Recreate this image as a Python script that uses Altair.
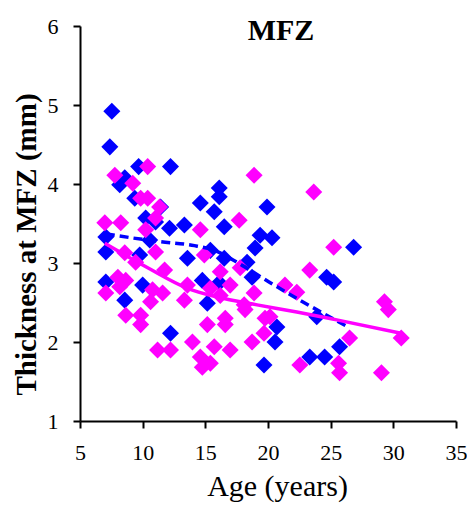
import altair as alt
import pandas as pd

# ---- data ----
blue_age = [7.54, 7.38, 9.68, 12.22, 8.57, 8.17, 9.37, 11.43, 14.60, 15.71, 16.11, 16.11,
            10.24, 11.03, 12.14, 13.33, 16.51, 19.92, 19.37, 7.06, 7.06, 7.06, 10.00, 8.57,
            9.76, 10.56, 13.57, 14.76, 16.51, 18.33, 18.73, 15.16, 12.22, 20.71, 20.56, 19.68,
            23.33, 24.52, 23.89, 24.68, 25.24, 26.83, 25.71, 16.11, 15.40, 20.32, 18.97]
blue_thk = [4.92, 4.47, 4.22, 4.22, 4.08, 3.99, 3.82, 3.71, 3.76, 3.65, 3.95, 3.84,
            3.57, 3.52, 3.44, 3.48, 3.46, 3.71, 3.35, 3.33, 3.14, 2.76, 2.72, 2.53,
            3.10, 3.29, 3.06, 2.78, 3.06, 3.01, 2.82, 2.49, 2.11, 2.19, 2.00, 1.71,
            1.81, 1.81, 2.32, 2.82, 2.76, 3.20, 1.94, 2.75, 3.16, 3.32, 3.19]

pink_age = [10.40, 7.78, 9.21, 9.84, 10.40, 11.35, 18.89, 23.65, 17.70, 14.60, 6.98, 8.25,
            11.03, 10.24, 8.57, 11.03, 9.44, 8.65, 11.75, 7.06, 8.17, 10.79, 11.59, 10.63,
            8.65, 9.84, 14.92, 16.19, 17.78, 13.57, 15.40, 16.98, 13.33, 16.19, 18.89, 18.10,
            16.59, 19.76, 11.19, 12.22, 13.97, 15.16, 15.71, 16.98, 14.60, 15.40, 14.76, 18.73,
            19.68, 20.16, 22.54, 25.24, 23.33, 21.35, 22.30, 29.29, 29.60, 26.51, 30.63, 25.63,
            25.71, 29.05, 8.02, 18.17, 16.59, 9.84]
pink_thk = [4.22, 4.11, 4.01, 3.82, 3.82, 3.71, 4.11, 3.90, 3.54, 3.42, 3.51, 3.51,
            3.57, 3.42, 3.13, 3.14, 3.01, 2.78, 2.91, 2.62, 2.70, 2.66, 2.62, 2.51,
            2.34, 2.34, 3.10, 2.89, 2.94, 2.72, 2.68, 2.72, 2.53, 2.59, 2.62, 2.47,
            2.30, 2.30, 1.90, 1.90, 2.00, 2.22, 1.94, 1.90, 1.81, 1.73, 1.68, 2.00,
            2.11, 2.32, 1.71, 3.20, 2.91, 2.72, 2.63, 2.51, 2.41, 2.05, 2.05, 1.73,
            1.61, 1.61, 2.82, 2.41, 2.22, 2.22]

blue_trend_age = [7.06, 9.05, 11.43, 14.13, 15.71, 17.94, 20.08, 22.54, 26.27]
blue_trend_thk = [3.37, 3.32, 3.27, 3.22, 3.16, 2.97, 2.76, 2.53, 2.20]

pink_trend_age = [6.98, 10.40, 13.57, 15.95, 19.13, 22.30, 25.48, 30.63]
pink_trend_thk = [3.25, 2.94, 2.68, 2.57, 2.47, 2.38, 2.28, 2.11]

x_ticks = [5, 10, 15, 20, 25, 30, 35]
y_ticks = [1, 2, 3, 4, 5, 6]

BLUE = "#0000FF"
PINK = "#FF00FF"
FONT = "Liberation Serif"

blue_df = pd.DataFrame({"age": blue_age, "thk": blue_thk})
pink_df = pd.DataFrame({"age": pink_age, "thk": pink_thk})
bt_df = pd.DataFrame({"age": blue_trend_age, "thk": blue_trend_thk})
pt_df = pd.DataFrame({"age": pink_trend_age, "thk": pink_trend_thk})

xs = alt.Scale(domain=[5, 35], nice=False, zero=False)
ys = alt.Scale(domain=[1, 6], nice=False, zero=False)

x_axis = alt.Axis(values=x_ticks, title="Age (years)", grid=False, labelFont=FONT,
                  labelFontSize=22, labelColor="black", titleFont=FONT, titleFontSize=30,
                  titleFontWeight="normal", titleColor="black", domainColor="black",
                  domainWidth=2, tickColor="black", tickWidth=2, tickSize=7,
                  labelPadding=14, titlePadding=8, titleX=197, labelFlush=False)
y_axis = alt.Axis(values=y_ticks, title="Thickness at MFZ (mm)", grid=False, labelFont=FONT,
                  labelFontSize=22, labelColor="black", titleFont=FONT, titleFontSize=29,
                  titleFontWeight="bold", titleColor="black", domainColor="black",
                  domainWidth=2, tickColor="black", tickWidth=2, tickSize=7,
                  labelPadding=15, titlePadding=6, titleY=218, labelFlush=False)

X = alt.X("age:Q", scale=xs, axis=x_axis)
Y = alt.Y("thk:Q", scale=ys, axis=y_axis)

blue_pts = alt.Chart(blue_df).mark_point(shape="diamond", filled=True, size=290, opacity=1,
                                         color=BLUE).encode(x=X, y=Y)
pink_pts = alt.Chart(pink_df).mark_point(shape="diamond", filled=True, size=290, opacity=1,
                                         color=PINK).encode(x=X, y=Y)
blue_line = alt.Chart(bt_df).mark_line(color=BLUE, strokeWidth=3.5, strokeDash=[9, 5],
                                       interpolate="monotone").encode(x=X, y=Y)
pink_line = alt.Chart(pt_df).mark_line(color=PINK, strokeWidth=3.5,
                                       interpolate="monotone").encode(x=X, y=Y)
title = alt.Chart(pd.DataFrame({"t": ["MFZ"]})).mark_text(
    font=FONT, fontSize=30, fontWeight="bold", color="black", baseline="alphabetic",
    align="center").encode(text="t:N", x=alt.value(201), y=alt.value(14))

chart = alt.layer(blue_pts, pink_pts, blue_line, pink_line, title).properties(
    width=376, height=395,
    background="white",
    autosize=alt.AutoSizeParams(type="none"),
    padding={"left": 72, "top": 18, "right": 11, "bottom": 82},
).configure_view(strokeWidth=0)

chart.save("out.html", embed_options={"renderer": "svg", "actions": False})
